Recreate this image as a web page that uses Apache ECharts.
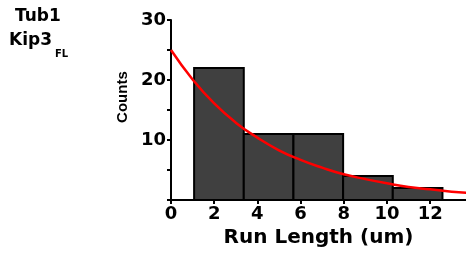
<!DOCTYPE html>
<html>
<head>
<meta charset="utf-8">
<script src="https://cdn.jsdelivr.net/npm/echarts@6/dist/echarts.min.js"></script>
<style>
  html, body { margin: 0; padding: 0; background: #fff; }
  #main { width: 466px; height: 253px; }
</style>
</head>
<body>
<div id="main"></div>
<script>
// histogram bins (um) and counts
const binStart = [1.07, 3.37, 5.67, 7.97, 10.27];
const binEnd = [3.37, 5.67, 7.97, 10.27, 12.57];
const counts = [22, 11, 11, 4, 2];

// red fit curve
const fitX = [0, 1, 2, 3, 4, 5, 6, 7, 8, 9, 10, 11, 12, 13, 14];
const fitY = [25, 20.1, 16.1, 12.9, 10.4, 8.3, 6.7, 5.4, 4.3, 3.5, 2.8, 2.2, 1.8, 1.4, 1.15];

const font = 'DejaVu Sans, sans-serif';

let myChart = echarts.init(document.getElementById('main'));

let barData = binStart.map((s, i) => [s, binEnd[i], counts[i]]);
let fitData = fitX.map((x, i) => [x, fitY[i]]);

myChart.setOption({
    animation: false,
    grid: {
        left: 171,
        top: 20,
        right: 0,
        bottom: 47
    },
    graphic: [
        { type: 'text', left: 15, top: 8, style: { text: 'Tub1', font: 'bold 17px ' + font, fill: '#000' } },
        { type: 'text', left: 9, top: 32, style: { text: 'Kip3', font: 'bold 17px ' + font, fill: '#000' } },
        { type: 'text', left: 55, top: 49, style: { text: 'FL', font: 'bold 10px ' + font, fill: '#000' } }
    ],
    xAxis: {
        type: 'value',
        min: 0,
        max: 13.66,
        interval: 2,
        name: 'Run Length (um)',
        nameLocation: 'middle',
        nameGap: 25,
        nameTextStyle: { color: '#000', fontWeight: 'bold', fontSize: 20, fontFamily: font },
        splitLine: { show: false },
        axisLine: { lineStyle: { color: '#000', width: 2 } },
        axisTick: { lineStyle: { color: '#000', width: 2 }, length: 4 },
        axisLabel: { color: '#000', fontWeight: 'bold', fontSize: 18, fontFamily: font, margin: 5, showMaxLabel: false }
    },
    yAxis: {
        type: 'value',
        min: 0,
        max: 30,
        interval: 10,
        name: 'Counts',
        nameLocation: 'middle',
        nameGap: 36,
        nameTextStyle: {
            color: '#000', fontWeight: 'bold', fontSize: 15, fontFamily: 'Liberation Sans, Arial, sans-serif',
            padding: [0, 0, 0, 26]
        },
        splitLine: { show: false },
        axisLine: { lineStyle: { color: '#000', width: 2 } },
        axisTick: { lineStyle: { color: '#000', width: 2 }, length: 4 },
        minorTick: { show: true, splitNumber: 2, length: 4, lineStyle: { color: '#000', width: 2 } },
        axisLabel: {
            color: '#000', fontWeight: 'bold', fontSize: 18, fontFamily: font, margin: 5,
            formatter: v => v === 0 ? '' : v
        }
    },
    series: [
        {
            type: 'custom',
            data: barData,
            encode: { x: [0, 1], y: 2 },
            renderItem: function (params, api) {
                let p0 = api.coord([api.value(0), api.value(2)]);
                let p1 = api.coord([api.value(1), 0]);
                return {
                    type: 'rect',
                    shape: { x: p0[0], y: p0[1], width: p1[0] - p0[0], height: p1[1] - p0[1] },
                    style: { fill: '#404040', stroke: '#000', lineWidth: 2 }
                };
            }
        },
        {
            type: 'line',
            data: fitData,
            smooth: true,
            showSymbol: false,
            lineStyle: { color: '#ff0000', width: 2.5 },
            z: 5
        }
    ]
});
</script>
</body>
</html>
